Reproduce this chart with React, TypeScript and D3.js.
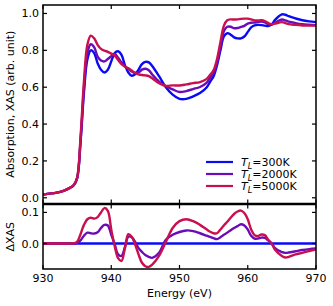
import React from "react";
import * as d3 from "d3";

const energies = [930, 932, 933, 934, 934.5, 935, 935.5, 936, 936.5, 937, 937.5, 938, 938.5, 939, 939.5, 940, 940.5, 941, 941.5, 942, 942.5, 943, 943.5, 944, 944.5, 945, 945.5, 946, 947, 948, 949, 950, 951, 952, 953, 954, 954.5, 955, 955.5, 956, 956.5, 957, 957.5, 958, 958.5, 959, 959.5, 960, 960.5, 961, 961.5, 962, 962.5, 963, 963.5, 964, 965, 965.5, 966, 967, 968, 969, 970];

const xas300 = [0.018, 0.028, 0.038, 0.055, 0.068, 0.105, 0.30, 0.57, 0.75, 0.80, 0.785, 0.73, 0.695, 0.68, 0.695, 0.74, 0.785, 0.795, 0.775, 0.72, 0.68, 0.662, 0.67, 0.695, 0.725, 0.737, 0.735, 0.715, 0.66, 0.60, 0.56, 0.537, 0.537, 0.55, 0.568, 0.60, 0.63, 0.66, 0.72, 0.80, 0.875, 0.893, 0.885, 0.87, 0.865, 0.865, 0.875, 0.90, 0.925, 0.935, 0.938, 0.937, 0.934, 0.932, 0.94, 0.965, 0.995, 0.993, 0.985, 0.973, 0.963, 0.957, 0.953];

const xas2000 = [0.018, 0.028, 0.038, 0.055, 0.068, 0.107, 0.31, 0.595, 0.785, 0.833, 0.817, 0.766, 0.745, 0.74, 0.753, 0.768, 0.78, 0.76, 0.735, 0.712, 0.7, 0.685, 0.677, 0.68, 0.695, 0.70, 0.692, 0.669, 0.63, 0.605, 0.588, 0.574, 0.579, 0.59, 0.601, 0.625, 0.651, 0.677, 0.734, 0.82, 0.903, 0.928, 0.928, 0.92, 0.921, 0.927, 0.933, 0.945, 0.95, 0.951, 0.954, 0.956, 0.952, 0.942, 0.94, 0.95, 0.967, 0.963, 0.956, 0.948, 0.942, 0.939, 0.937];

const xas5000 = [0.018, 0.028, 0.038, 0.055, 0.069, 0.11, 0.33, 0.63, 0.83, 0.88, 0.865, 0.83, 0.808, 0.798, 0.792, 0.782, 0.772, 0.748, 0.725, 0.712, 0.702, 0.69, 0.678, 0.67, 0.666, 0.664, 0.66, 0.648, 0.622, 0.607, 0.61, 0.609, 0.615, 0.622, 0.628, 0.645, 0.668, 0.693, 0.753, 0.845, 0.933, 0.963, 0.968, 0.967, 0.968, 0.971, 0.972, 0.972, 0.968, 0.962, 0.962, 0.963, 0.959, 0.948, 0.942, 0.945, 0.953, 0.948, 0.942, 0.938, 0.935, 0.934, 0.934];

const dxas300 = energies.map(() => 0);

const dxas2000 = [0, 0, 0, 0, 0, 0.002, 0.01, 0.025, 0.035, 0.033, 0.032, 0.036, 0.05, 0.06, 0.058, 0.028, -0.002, -0.035, -0.04, -0.012, 0.022, 0.02, 0.005, -0.015, -0.027, -0.037, -0.043, -0.046, -0.03, 0.012, 0.028, 0.037, 0.042, 0.04, 0.033, 0.025, 0.021, 0.017, 0.014, 0.02, 0.028, 0.035, 0.043, 0.05, 0.056, 0.062, 0.058, 0.045, 0.025, 0.016, 0.016, 0.019, 0.018, 0.01, 0, -0.015, -0.028, -0.03, -0.029, -0.025, -0.021, -0.018, -0.016];

const dxas5000 = [0, 0, 0, 0, 0.001, 0.005, 0.03, 0.06, 0.078, 0.083, 0.08, 0.085, 0.1, 0.114, 0.105, 0.045, -0.008, -0.047, -0.056, -0.015, 0.03, 0.022, -0.003, -0.035, -0.062, -0.073, -0.075, -0.068, -0.04, 0.005, 0.05, 0.072, 0.078, 0.072, 0.06, 0.045, 0.038, 0.033, 0.033, 0.045, 0.058, 0.07, 0.083, 0.095, 0.103, 0.106, 0.098, 0.078, 0.045, 0.027, 0.024, 0.029, 0.027, 0.012, 0, -0.02, -0.04, -0.045, -0.043, -0.035, -0.03, -0.024, -0.019];

const seriesLabels = ["300K", "2000K", "5000K"];
const seriesColors = ["#0a0af5", "#6a0cb8", "#c8104e"];

const xTicks = [930, 940, 950, 960, 970];
const topTicks = [0.0, 0.2, 0.4, 0.6, 0.8, 1.0];
const bottomTicks = [0.0, 0.1];

const FONT = "DejaVu Sans, sans-serif";

export default function App() {
  const left = 43, right = 316;
  const topY0 = 5, topY1 = 203.5;
  const botY0 = 204.5, botY1 = 269;

  const x = d3.scaleLinear().domain([930, 970]).range([left, right]);
  const yTop = d3.scaleLinear().domain([-0.031, 1.046]).range([topY1, topY0]);
  const yBot = d3.scaleLinear().domain([-0.082, 0.1255]).range([botY1, botY0]);

  const topSeries = [xas300, xas2000, xas5000];
  const botSeries = [dxas300, dxas2000, dxas5000];

  const lineTop = d3
    .line<number>()
    .x((_, i) => x(energies[i]))
    .y((d) => yTop(d))
    .curve(d3.curveCatmullRom.alpha(0.5));
  const lineBot = d3
    .line<number>()
    .x((_, i) => x(energies[i]))
    .y((d) => yBot(d))
    .curve(d3.curveCatmullRom.alpha(0.5));

  const tickLen = 4;
  const fs = 11;

  return (
    <svg width={333} height={306} style={{ position: "absolute", left: 0, top: 0 }} fontFamily={FONT}>
      <defs>
        <clipPath id="clipTop">
          <rect x={left} y={topY0} width={right - left} height={topY1 - topY0} />
        </clipPath>
        <clipPath id="clipBot">
          <rect x={left} y={botY0} width={right - left} height={botY1 - botY0} />
        </clipPath>
      </defs>

      <g clipPath="url(#clipTop)">
        {topSeries.map((s, k) => (
          <path key={k} d={lineTop(s) || ""} fill="none" stroke={seriesColors[k]} strokeWidth={2.4} strokeLinejoin="round" />
        ))}
      </g>
      <g clipPath="url(#clipBot)">
        {botSeries.map((s, k) => (
          <path key={k} d={lineBot(s) || ""} fill="none" stroke={seriesColors[k]} strokeWidth={2.4} strokeLinejoin="round" />
        ))}
      </g>

      <rect x={left} y={topY0} width={right - left} height={topY1 - topY0} fill="none" stroke="#000" strokeWidth={1.5} />
      <rect x={left} y={botY0} width={right - left} height={botY1 - botY0} fill="none" stroke="#000" strokeWidth={1.5} />

      {xTicks.map((t) => (
        <g key={"xt" + t}>
          <line x1={x(t)} x2={x(t)} y1={topY0} y2={topY0 + tickLen} stroke="#000" strokeWidth={1.2} />
          <line x1={x(t)} x2={x(t)} y1={topY1} y2={topY1 - tickLen} stroke="#000" strokeWidth={1.2} />
          <line x1={x(t)} x2={x(t)} y1={botY0} y2={botY0 + tickLen} stroke="#000" strokeWidth={1.2} />
          <line x1={x(t)} x2={x(t)} y1={botY1} y2={botY1 - tickLen} stroke="#000" strokeWidth={1.2} />
          <text x={x(t)} y={282} fontSize={fs} textAnchor="middle" fill="#000">{t}</text>
        </g>
      ))}

      {topTicks.map((t) => (
        <g key={"yt" + t}>
          <line x1={left} x2={left + tickLen} y1={yTop(t)} y2={yTop(t)} stroke="#000" strokeWidth={1.2} />
          <line x1={right} x2={right - tickLen} y1={yTop(t)} y2={yTop(t)} stroke="#000" strokeWidth={1.2} />
          <text x={left - 4} y={yTop(t) + 4} fontSize={fs} textAnchor="end" fill="#000">{t.toFixed(1)}</text>
        </g>
      ))}

      {bottomTicks.map((t) => (
        <g key={"yb" + t}>
          <line x1={left} x2={left + tickLen} y1={yBot(t)} y2={yBot(t)} stroke="#000" strokeWidth={1.2} />
          <line x1={right} x2={right - tickLen} y1={yBot(t)} y2={yBot(t)} stroke="#000" strokeWidth={1.2} />
          <text x={left - 4} y={yBot(t) + 4} fontSize={fs} textAnchor="end" fill="#000">{t.toFixed(1)}</text>
        </g>
      ))}

      <text transform={`translate(14,${(topY0 + topY1) / 2}) rotate(-90)`} fontSize={fs} textAnchor="middle" fill="#000">
        Absorption, XAS (arb. unit)
      </text>
      <text transform={`translate(14,${(botY0 + botY1) / 2}) rotate(-90)`} fontSize={fs} textAnchor="middle" fill="#000">
        ΔXAS
      </text>
      <text x={(left + right) / 2} y={297} fontSize={fs} textAnchor="middle" fill="#000">
        Energy (eV)
      </text>

      {seriesLabels.map((lab, k) => {
        const ly = 162 + k * 12;
        return (
          <g key={"lg" + k}>
            <line x1={206} x2={233} y1={ly} y2={ly} stroke={seriesColors[k]} strokeWidth={2.2} />
            <text x={241} y={ly + 4} fontSize={fs} fill="#000">
              <tspan fontStyle="italic">T</tspan>
              <tspan fontStyle="italic" fontSize={8} dy={2.5}>L</tspan>
              <tspan dy={-2.5}>={lab}</tspan>
            </text>
          </g>
        );
      })}
    </svg>
  );
}
